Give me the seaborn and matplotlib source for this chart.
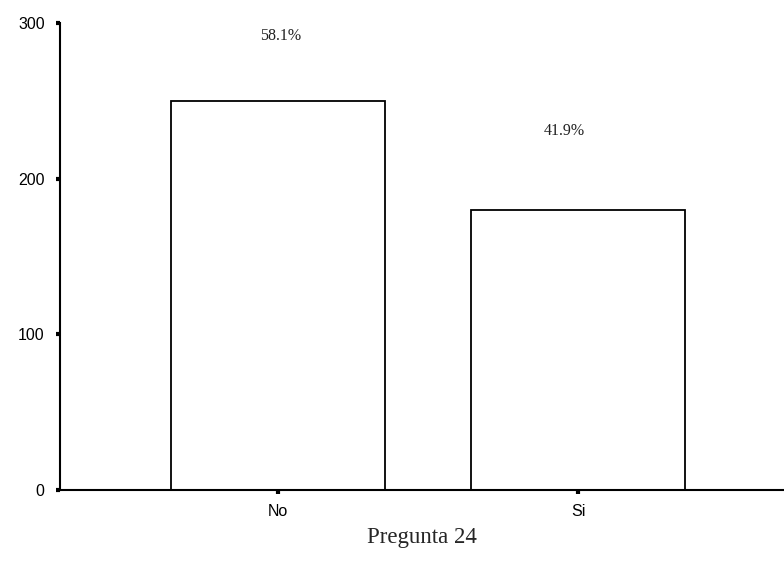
import matplotlib
matplotlib.use('Agg')
import matplotlib.pyplot as plt
import seaborn as sns
import pandas as pd

# data
categories = ['No', 'Si']
counts = [250, 180]
percent_labels = ['58.1%', '41.9%']

df = pd.DataFrame({'respuesta': categories, 'n': counts})

sns.set_theme(style='white')
plt.rcParams['font.family'] = ['Liberation Sans', 'DejaVu Sans']

fig = plt.figure(figsize=(7.84, 5.72), dpi=100)
ax = fig.add_axes([60 / 784, 1 - 490 / 572, 1 - 60 / 784, (490 - 23) / 572])

sns.barplot(data=df, x='respuesta', y='n', color='white', edgecolor='black',
            linewidth=1.3, width=0.713, saturation=1, ax=ax)

ax.set_xlim(-0.727, 1.685)
ax.set_ylim(0, 300)
ax.set_yticks([0, 100, 200, 300])

# percentage labels above the bars
offsets = [(2, 65), (-14, 79)]
for i, (v, lab) in enumerate(zip(counts, percent_labels)):
    ax.annotate(lab, (i, v), xytext=offsets[i], textcoords='offset pixels',
                ha='center', va='center', fontsize=11.5,
                family='Liberation Serif', color='#222222')

for side in ['top', 'right']:
    ax.spines[side].set_visible(False)
for side in ['left', 'bottom']:
    ax.spines[side].set_color('black')
    ax.spines[side].set_linewidth(1.5)

ax.tick_params(axis='both', direction='out', length=3, width=3, color='black',
               labelsize=11.5, labelcolor='black', left=True, bottom=True)
ax.tick_params(axis='y', pad=8)
ax.tick_params(axis='x', pad=7)
ax.set_ylabel('')
ax.set_xlabel('Pregunta 24', family='Liberation Serif', fontsize=16.5, va='center')
ax.xaxis.set_label_coords(0.5, -47 / 467)

fig.savefig('out.png', dpi=100)
